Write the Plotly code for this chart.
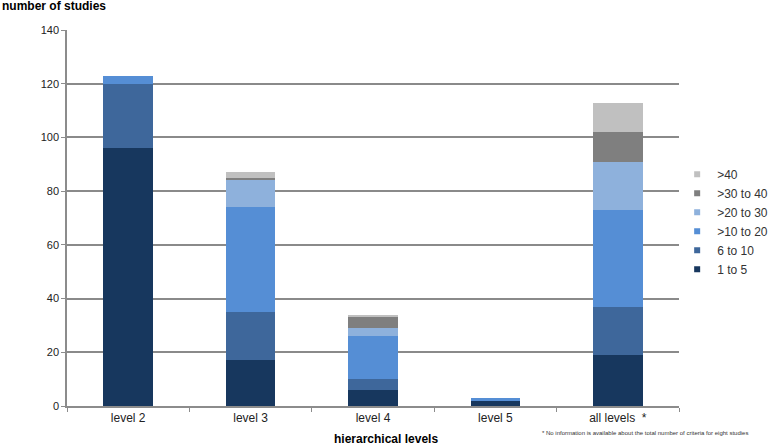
import plotly.graph_objects as go

categories = ["level 2", "level 3", "level 4", "level 5", "all levels  *"]
series_names = ["1 to 5", "6 to 10", ">10 to 20", ">20 to 30", ">30 to 40", ">40"]
s_1_5 = [96, 17, 6, 2, 19]
s_6_10 = [24, 18, 4, 0, 18]
s_10_20 = [3, 39, 16, 1, 36]
s_20_30 = [0, 10, 3, 0, 18]
s_30_40 = [0, 1, 4, 0, 11]
s_40 = [0, 2, 1, 0, 11]
series_values = [s_1_5, s_6_10, s_10_20, s_20_30, s_30_40, s_40]
colors = ["#17375E", "#3E679B", "#558ED5", "#8EB1DC", "#7F7F7F", "#C0C0C0"]
y_ticks = [0, 20, 40, 60, 80, 100, 120, 140]

fig = go.Figure()
for name, vals, col in zip(series_names, series_values, colors):
    fig.add_trace(go.Bar(x=categories, y=vals, name=name, marker=dict(color=col, line=dict(width=0)),
                         width=0.405, showlegend=False))
for name, col in zip(series_names, colors):
    fig.add_trace(go.Scatter(x=[None], y=[None], mode="markers", name=name, legendgroup=name,
                             marker=dict(symbol="square", size=6, color=col)))

fig.update_layout(
    width=778, height=448,
    margin=dict(l=67, r=99, t=30, b=42, autoexpand=False),
    barmode="stack",
    plot_bgcolor="white", paper_bgcolor="white",
    font=dict(family="Liberation Sans, Arial, sans-serif", size=12, color="#222"),
    legend=dict(x=0.997, xanchor="left", y=0.49, yanchor="middle", traceorder="reversed",
                tracegroupgap=1.4, font=dict(size=12, color="#333"), itemwidth=30,
                bgcolor="rgba(0,0,0,0)"),
    xaxis=dict(showline=True, linecolor="#8c8c8c", linewidth=1.5, ticks="outside",
               tickson="boundaries", ticklen=4, tickcolor="#8c8c8c",
               tickfont=dict(size=12, color="#222"), showgrid=False),
    yaxis=dict(range=[0, 140], tickvals=y_ticks, showline=True, linecolor="#8c8c8c", linewidth=1.5,
               ticks="outside", ticklen=4, tickcolor="#8c8c8c", gridcolor="#8a8a8a", gridwidth=1.5,
               tickfont=dict(size=11, color="#222"), zeroline=False),
    annotations=[
        dict(text="<b>number of studies</b>", xref="paper", yref="paper", x=-67/612, y=1 + 24/376,
             xanchor="left", yanchor="middle", showarrow=False, font=dict(size=12, color="#000")),
        dict(text="<b>hierarchical levels</b>", xref="paper", yref="paper", x=(386 - 67) / 612,
             y=-(439 - 406) / 376, xanchor="center", yanchor="middle", showarrow=False,
             font=dict(size=12, color="#000")),
        dict(text="* No information is available about the total number of criteria for eight studies",
             xref="paper", yref="paper", x=(540 - 67) / 612, y=-(433 - 406) / 376,
             xanchor="left", yanchor="middle", showarrow=False, font=dict(size=6, color="#333")),
    ],
)
fig.write_html("out.html", config={"displayModeBar": False},
               post_script="document.body.style.margin='0';")
